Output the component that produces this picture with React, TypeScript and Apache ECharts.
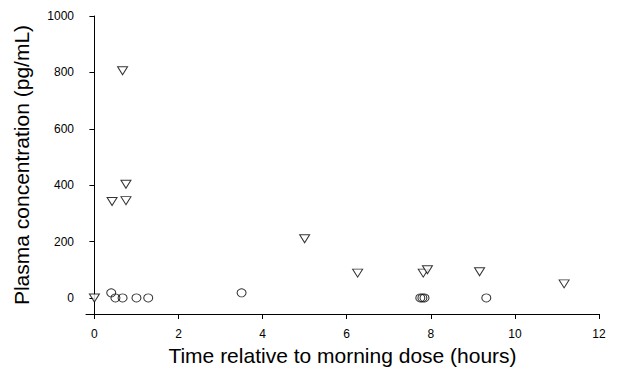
import React, { useEffect, useRef } from "react";
import * as echarts from "echarts";

const triangleX = [0, 0.42, 0.75, 0.75, 0.67, 5.0, 6.26, 7.82, 7.92, 9.16, 11.17];
const triangleY = [0, 342, 345, 403, 806, 210, 88, 88, 100, 93, 50];
const circleX = [0.4, 0.5, 0.67, 1.0, 1.28, 3.5, 7.75, 7.8, 7.85, 9.32];
const circleY = [18, 0, 0, 0, 0, 18, 0, 0, 0, 0];
const xTicks = [0, 2, 4, 6, 8, 10, 12];
const yTicks = [0, 200, 400, 600, 800, 1000];

export default function App() {
  const ref = useRef<HTMLDivElement>(null);
  useEffect(() => {
    document.body.style.margin = "0";
    const chart = echarts.init(ref.current!, null, { renderer: "svg" });
    const font = "'Liberation Sans', Arial, sans-serif";
    chart.setOption({
      animation: false,
      backgroundColor: "#fff",
      grid: { left: 86, right: 18, top: 16, bottom: 54, outerBoundsMode: "none", containLabel: false },
      xAxis: {
        type: "value",
        min: -0.2,
        max: 12,
        splitLine: { show: false },
        axisLine: { show: true, onZero: false, lineStyle: { color: "#000", width: 1 } },
        axisTick: { show: true, length: 5, customValues: xTicks, lineStyle: { color: "#000" } },
        axisLabel: { customValues: xTicks, color: "#000", fontSize: 12, fontFamily: font, margin: 14 },
        name: "Time relative to morning dose (hours)",
        nameLocation: "middle",
        nameGap: 30,
        nameTextStyle: { fontSize: 21, fontFamily: font, color: "#000" },
      },
      yAxis: {
        type: "value",
        min: -57,
        max: 1000,
        splitLine: { show: false },
        axisLine: { show: true, lineStyle: { color: "#000", width: 1 } },
        axisTick: { show: true, length: 5, customValues: yTicks, lineStyle: { color: "#000" } },
        axisLabel: {
          customValues: yTicks,
          color: "#000",
          fontSize: 12,
          fontFamily: font,
          margin: 12,
          formatter: (v: number) => String(v),
        },
        name: "Plasma concentration (pg/mL)",
        nameLocation: "middle",
        nameGap: 54,
        nameTextStyle: { fontSize: 21, fontFamily: font, color: "#000" },
      },
      series: [
        {
          type: "scatter",
          data: triangleX.map((x, i) => [x, triangleY[i]]),
          symbol: "triangle",
          symbolRotate: 180,
          symbolSize: [10, 8],
          itemStyle: { color: "#fff", borderColor: "#000", borderWidth: 1 },
        },
        {
          type: "scatter",
          data: circleX.map((x, i) => [x, circleY[i]]),
          symbol: "circle",
          symbolSize: [9, 8],
          itemStyle: { color: "rgba(255,255,255,0)", borderColor: "#000", borderWidth: 1 },
        },
      ],
    });
    return () => chart.dispose();
  }, []);
  return <div ref={ref} style={{ width: 617, height: 368 }} />;
}
